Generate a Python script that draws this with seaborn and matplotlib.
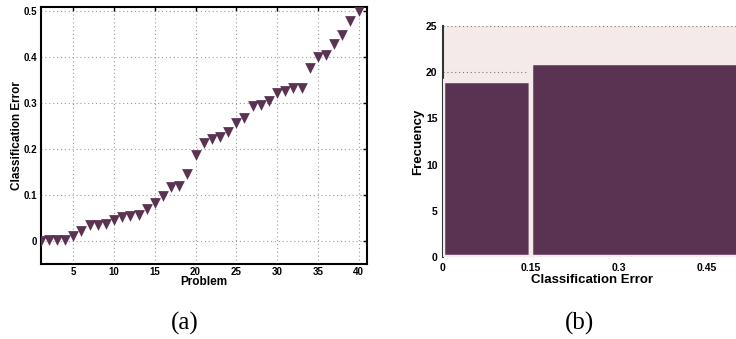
import numpy as np
import pandas as pd
import matplotlib
matplotlib.use('Agg')
import matplotlib.pyplot as plt
import seaborn as sns

# Classification error per problem (sorted)
problems = list(range(1, 41))
errors = [0.000, 0.002, 0.002, 0.002, 0.010, 0.021, 0.034, 0.033, 0.036, 0.045,
          0.051, 0.054, 0.055, 0.068, 0.081, 0.096, 0.117, 0.118, 0.144, 0.187,
          0.212, 0.221, 0.225, 0.236, 0.256, 0.266, 0.292, 0.294, 0.304, 0.321,
          0.326, 0.331, 0.332, 0.376, 0.399, 0.404, 0.427, 0.447, 0.477, 0.500]
hist_bins = [0, 0.15, 0.6]

x_ticks = [5, 10, 15, 20, 25, 30, 35, 40]
y_ticks = [0, 0.1, 0.2, 0.3, 0.4, 0.5]
hx_ticks = [0, 0.15, 0.3, 0.45]
hx_labels = ['0', '0.15', '0.3', '0.45']
hy_ticks = [0, 5, 10, 15, 20, 25]

df = pd.DataFrame({'Problem': problems, 'Error': errors})

sns.set_style('white')
plt.rcParams['font.family'] = ['Liberation Sans', 'DejaVu Sans']
plt.rcParams['font.weight'] = 'bold'
plt.rcParams['text.color'] = 'black'
plt.rcParams['axes.labelcolor'] = 'black'
plt.rcParams['xtick.color'] = 'black'
plt.rcParams['ytick.color'] = 'black'

purple = '#5a3352'
pink_bg = '#f4eaea'

fig = plt.figure(figsize=(7.36, 3.39), dpi=100)
W, H = 736, 339

def px_axes(l, t, r, b):
    return fig.add_axes([l / W, 1 - b / H, (r - l) / W, (b - t) / H])

# ---- (a) scatter of errors ----
ax1 = px_axes(40.7, 6.7, 366.7, 264)
sns.scatterplot(data=df, x='Problem', y='Error', marker='v', s=60,
                color=purple, edgecolor=purple, linewidth=0, ax=ax1, zorder=3)
ax1.set_xlim(1, 41)
ax1.set_ylim(-0.051, 0.509)
ax1.set_xticks(x_ticks)
ax1.set_yticks(y_ticks)
ax1.set_xticklabels([str(t) for t in x_ticks])
ax1.set_yticklabels(['0', '0.1', '0.2', '0.3', '0.4', '0.5'])
ax1.grid(True, linestyle=(0, (1, 2.5)), color='#9a9a9a', linewidth=0.8)
ax1.tick_params(direction='in', length=3, width=1, top=True, right=True,
                labelsize=7, pad=2.5)
for sp in ax1.spines.values():
    sp.set_color('black')
    sp.set_linewidth(1.5)
ax1.set_xlabel('Problem', fontsize=8.5, fontweight='bold')
ax1.set_ylabel('Classification Error', fontsize=8.5, fontweight='bold')
ax1.xaxis.set_label_coords(0.501, -0.07)
ax1.xaxis.label.set_va('center')
ax1.yaxis.set_label_coords(-0.073, 0.501)
ax1.yaxis.label.set_va('center')

# ---- (b) histogram of errors ----
ax2 = px_axes(443, 25.7, 736, 257.3)
ax2.set_facecolor(pink_bg)
sns.histplot(x=errors, bins=hist_bins, color=purple, edgecolor=pink_bg,
             linewidth=3.2, alpha=1, ax=ax2, zorder=3)
ax2.set_xlim(0, 0.5)
ax2.set_ylim(0, 25)
ax2.set_xticks(hx_ticks)
ax2.set_xticklabels(hx_labels)
ax2.set_yticks(hy_ticks)
ax2.yaxis.grid(True, linestyle=(0, (1, 2.5)), color='#777777', linewidth=0.8)
ax2.xaxis.grid(False)
ax2.set_axisbelow(True)
ax2.tick_params(direction='in', length=0, labelsize=7.5, pad=4)
for name, sp in ax2.spines.items():
    sp.set_visible(name == 'left')
ax2.spines['left'].set_color('#333333')
ax2.spines['left'].set_linewidth(1.5)
ax2.set_xlabel('Classification Error', fontsize=9.5, fontweight='bold')
ax2.set_ylabel('Frecuency', fontsize=9.5, fontweight='bold')
ax2.xaxis.set_label_coords(0.508, -0.098)
ax2.xaxis.label.set_va('center')
ax2.yaxis.set_label_coords(-0.085, 0.498)
ax2.yaxis.label.set_va('center')

# captions
fig.text(185 / W, 1 - 323 / H, '(a)', ha='center', va='center',
         family=['Liberation Serif', 'DejaVu Serif'], fontweight='normal', fontsize=18)
fig.text(580 / W, 1 - 323 / H, '(b)', ha='center', va='center',
         family=['Liberation Serif', 'DejaVu Serif'], fontweight='normal', fontsize=18)

fig.savefig('out.png', dpi=100)
